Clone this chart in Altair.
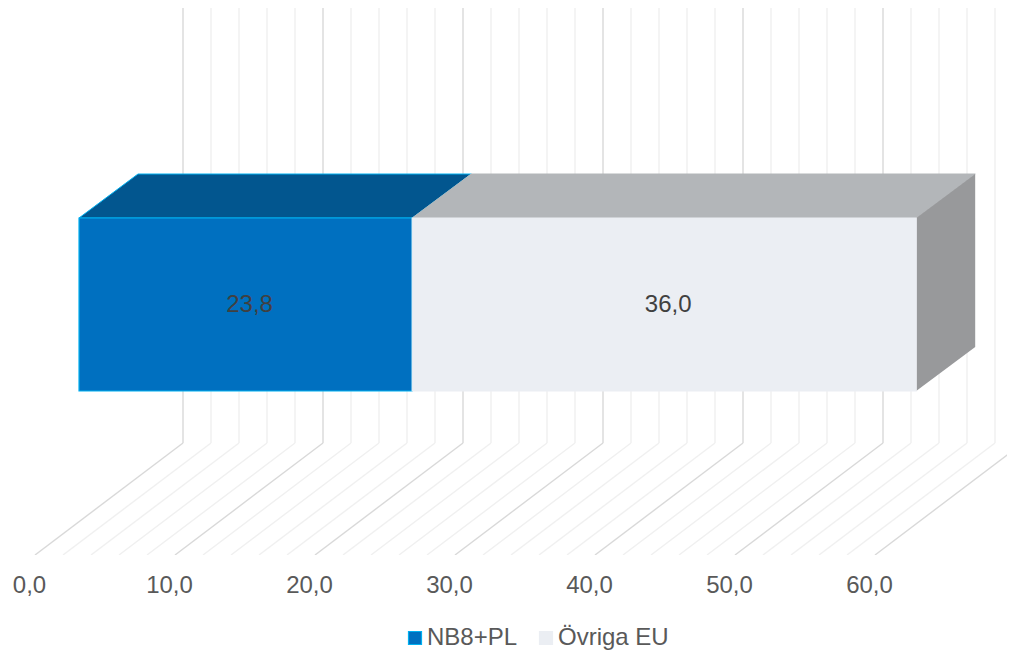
import altair as alt
import pandas as pd

# ---------------- data ----------------
series = ["NB8+PL", "Övriga EU"]
values = [23.8, 36.0]
tick_values = [0, 10, 20, 30, 40, 50, 60]
grid_step = 2
axis_max = 60

# ---------------- styles ----------------
front_colors = ["#0070C0", "#EBEEF3"]
edge_colors = ["#00B0F0", "#EBEEF3"]
top_colors = ["#02568F", "#B3B6B9"]
top_edges = ["#00B0F0", "#B3B6B9"]
side_color = "#98999B"
major_grid = "#D9D9D9"
minor_grid = "#F0F0F0"
FONT = "Liberation Sans"
FS = 24

# ---------------- layout (3D projection parameters) ----------------
PX_PER_UNIT = 14.0
PLOT_W = 999
PLOT_H = 547
X_MIN = -27 / PX_PER_UNIT
X_MAX = X_MIN + PLOT_W / PX_PER_UNIT
WALL_DX = 148 / PX_PER_UNIT   # depth shift (value units) from floor front to back wall
WALL_DY = 112                 # depth rise (px)
FLOOR_Y = PLOT_H
WALL_TOP = 0
BAR_SHIFT = 44 / PX_PER_UNIT  # bar front plane shift
BAR_DX = 59 / PX_PER_UNIT     # bar depth in x
BAR_DY = 44                   # bar depth in y
BAR_TOP = 210
BAR_BOTTOM = 383

xscale = alt.Scale(domain=[X_MIN, X_MAX], nice=False, zero=False)
yscale = alt.Scale(domain=[0, PLOT_H], nice=False, zero=False, reverse=True)

AXIS_X = alt.Axis(values=tick_values, grid=False, domain=False, ticks=False, tickSize=0,
                  title=None, labelPadding=37, labelBaseline="alphabetic",
                  labelOffset=-6, labelFont=FONT, labelFontSize=FS,
                  labelColor="#595959", labelFlush=False, labelOverlap=False,
                  labelExpr="replace(format(datum.value, '.1f'), '.', ',')")


def X(field):
    return alt.X(field, scale=xscale, axis=AXIS_X)


def Y(field):
    return alt.Y(field, scale=yscale, axis=None)


# ---------------- derived tables ----------------
starts, ends = [], []
acc = 0.0
for v in values:
    starts.append(acc)
    acc += v
    ends.append(acc)

front = pd.DataFrame({
    "series": series,
    "x0": [s + BAR_SHIFT for s in starts],
    "x1": [e + BAR_SHIFT for e in ends],
    "y0": [BAR_TOP] * len(series),
    "y1": [BAR_BOTTOM] * len(series),
    "label": [f"{v:.1f}".replace(".", ",") for v in values],
})
front["xc"] = (front["x0"] + front["x1"]) / 2
front["yc"] = (front["y0"] + front["y1"]) / 2

grid_vals = list(range(0, axis_max + 1, grid_step))
grid = pd.DataFrame({"v": grid_vals})
grid["major"] = grid["v"] % 10 == 0
grid["xb"] = grid["v"] + WALL_DX
grid["ytop"] = WALL_TOP
grid["ybot"] = FLOOR_Y - WALL_DY
grid["yfloor"] = FLOOR_Y

layers = []

# back wall and floor lines
for is_major, col in [(False, minor_grid), (True, major_grid)]:
    g = grid[grid["major"] == is_major]
    wall = alt.Chart(g).mark_rule(color=col, strokeWidth=1.4, clip=True).encode(
        x=X("xb:Q"), y=Y("ytop:Q"), y2="ybot:Q",
    )
    floor = alt.Chart(g).mark_rule(color=col, strokeWidth=1.4, clip=True).encode(
        x=X("v:Q"), x2="xb:Q", y=Y("yfloor:Q"), y2="ybot:Q",
    )
    layers += [wall, floor]

# top faces
for i, s in enumerate(series):
    top = pd.DataFrame({
        "y": [BAR_TOP, BAR_TOP - BAR_DY],
        "xa": [starts[i] + BAR_SHIFT, starts[i] + BAR_SHIFT + BAR_DX],
        "xb": [ends[i] + BAR_SHIFT, ends[i] + BAR_SHIFT + BAR_DX],
    })
    layers.append(
        alt.Chart(top).mark_area(orient="horizontal", fill=top_colors[i],
                                 stroke=top_edges[i], strokeWidth=1).encode(
            y=Y("y:Q"), x=X("xa:Q"), x2="xb:Q",
        )
    )

# right side face of the last segment
total = ends[-1]
side = pd.DataFrame({
    "x": [total + BAR_SHIFT, total + BAR_SHIFT + BAR_DX],
    "yt": [BAR_TOP, BAR_TOP - BAR_DY],
    "yb": [BAR_BOTTOM, BAR_BOTTOM - BAR_DY],
})
layers.append(
    alt.Chart(side).mark_area(orient="vertical", fill=side_color).encode(
        x=X("x:Q"), y=Y("yt:Q"), y2="yb:Q",
    )
)

legend = alt.Legend(
    title=None, orient="none", legendX=395, legendY=618, direction="horizontal",
    symbolType="square", symbolSize=169, symbolStrokeWidth=1.2,
    labelFont=FONT, labelFontSize=FS, labelColor="#595959", labelOffset=0,
    columnPadding=16, padding=0,
)

# front faces (with the legend)
layers.append(
    alt.Chart(front).mark_rect(strokeWidth=1.2).encode(
        x=X("x0:Q"), x2="x1:Q", y=Y("y0:Q"), y2="y1:Q",
        fill=alt.Fill("series:N", scale=alt.Scale(domain=series, range=front_colors), legend=legend),
        stroke=alt.Stroke("series:N", scale=alt.Scale(domain=series, range=edge_colors), legend=legend),
    )
)

# data labels
layers.append(
    alt.Chart(front).mark_text(font=FONT, fontSize=FS, color="#404040", dx=4,
                               baseline="middle", align="center").encode(
        x=X("xc:Q"), y=Y("yc:Q"), text="label:N",
    )
)

chart = alt.layer(*layers).properties(
    width=PLOT_W, height=PLOT_H,
    autosize=alt.AutoSizeParams(type="none"),
    padding={"left": 0, "top": 0, "right": 0, "bottom": 97},
    background="white",
).configure(font=FONT).configure_view(stroke=None)

chart.save("out.html", embed_options={"renderer": "svg", "actions": False})
